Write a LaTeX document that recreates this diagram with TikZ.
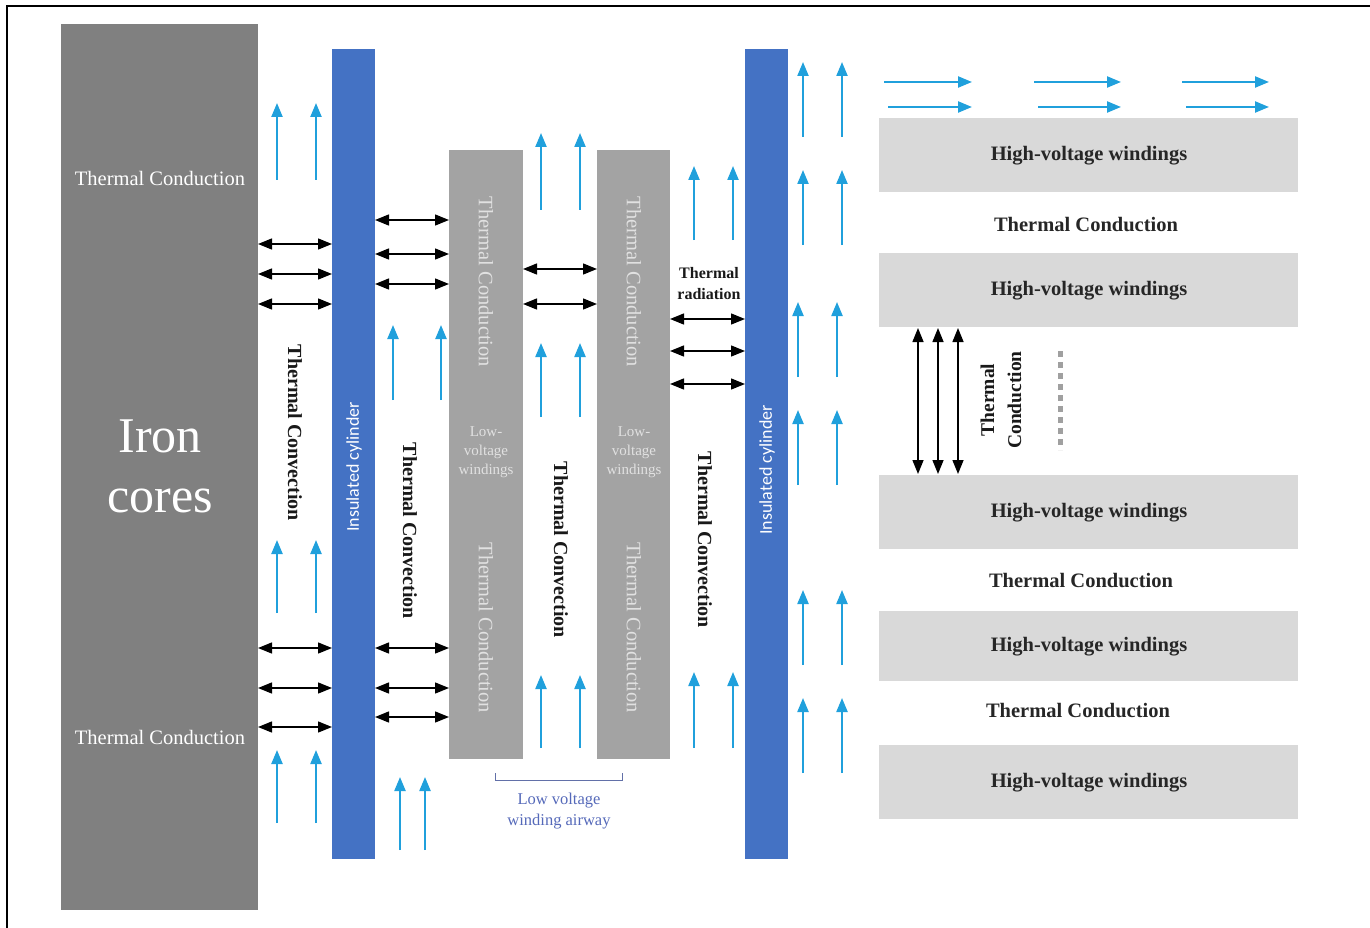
\documentclass[tikz,border=0pt]{standalone}
\usepackage{fontspec}
\setmainfont{Liberation Serif}
\newfontfamily\calibfont{Carlito}
\usetikzlibrary{arrows.meta}
\definecolor{coregray}{RGB}{128,128,128}
\definecolor{lvgray}{RGB}{163,163,163}
\definecolor{hvgray}{RGB}{217,217,217}
\definecolor{cylblue}{RGB}{68,114,196}
\definecolor{flowblue}{RGB}{32,160,220}
\definecolor{lvtext}{RGB}{225,225,225}
\definecolor{airblue}{RGB}{85,105,185}
\definecolor{dotgray}{RGB}{160,160,160}
\tikzset{
  core/.style={fill=coregray, draw=none},
  lvbox/.style={fill=lvgray, draw=none},
  hvbox/.style={fill=hvgray, draw=none},
  cyl/.style={fill=cylblue, draw=none},
  dbl/.style={black, line width=1.4pt, {Triangle[length=14pt,width=11pt]}-{Triangle[length=14pt,width=11pt]}},
  flow/.style={flowblue, line width=2.2pt, -{Triangle[length=14pt,width=11pt]}},
  whitelbl/.style={text=white, font=\fontsize{20.5}{23}\selectfont, inner sep=0pt},
  lvlbl/.style={text=lvtext, font=\fontsize{20.5}{23}\selectfont, inner sep=0pt},
  blacklbl/.style={text=black!90, font=\fontsize{20}{22}\selectfont\bfseries, inner sep=0pt},
  hvlbl/.style={text=black!85, font=\fontsize{20.5}{22}\selectfont\bfseries, inner sep=0pt},
}
\begin{document}
\begin{tikzpicture}[x=1pt,y=-1pt]
\useasboundingbox (0,0) rectangle (1370,928);
% frame
\draw[black, line width=1.5pt] (7,928) -- (7,6) -- (1370,6);

% iron core
\path[core] (61,24) rectangle (258,910);
\node[whitelbl] (ctc1) at (160,178) {Thermal Conduction};
\node[whitelbl] (ctc2) at (160,737) {Thermal Conduction};
\node[text=white, font=\fontsize{50}{60}\selectfont, align=center, inner sep=0pt] (iron) at (160,466) {Iron\\cores};

% insulated cylinders
\path[cyl] (332,49) rectangle (375,859);
\path[cyl] (745,49) rectangle (788,859);
\node[text=white, font=\calibfont\fontsize{18}{20}\selectfont, rotate=90, inner sep=0pt] (cyl1t) at (354,467) {Insulated cylinder};
\node[text=white, font=\calibfont\fontsize{18}{20}\selectfont, rotate=90, inner sep=0pt] (cyl2t) at (767,470) {Insulated cylinder};

% low-voltage windings
\path[lvbox] (449,150) rectangle (523,759);
\path[lvbox] (597,150) rectangle (670,759);
\foreach \xx/\nm in {486/a,634/b}{
  \node[lvlbl, rotate=-90] (lvtop\nm) at (\xx,282) {Thermal Conduction};
  \node[lvlbl, rotate=-90] (lvbot\nm) at (\xx,628) {Thermal Conduction};
  \node[text=lvtext, font=\fontsize{15}{19}\selectfont, align=center, inner sep=0pt] (lvw\nm) at (\xx,452) {Low-\\voltage\\windings};
}

% convection labels
\node[blacklbl, rotate=-90] (conv1) at (295,433) {Thermal Convection};
\node[blacklbl, rotate=-90] (conv2) at (410,531) {Thermal Convection};
\node[blacklbl, rotate=-90] (conv3) at (561,550) {Thermal Convection};
\node[blacklbl, rotate=-90] (conv4) at (705,540) {Thermal Convection};
\node[text=black!90, font=\fontsize{16}{21}\selectfont\bfseries, align=center, inner sep=0pt] (rad) at (709,284) {Thermal\\radiation};

% black double arrows
\foreach \yy in {244,274,304,648,688,727}{ \draw[dbl] (258,\yy) -- (332,\yy); }
\foreach \yy in {220,254,284,648,688,717}{ \draw[dbl] (375,\yy) -- (449,\yy); }
\foreach \yy in {269,304}{ \draw[dbl] (523,\yy) -- (597,\yy); }
\foreach \yy in {319,351,384}{ \draw[dbl] (670,\yy) -- (745,\yy); }

% blue upward flow arrows
\foreach \xa/\xb/\yb/\yt in {
  277/316/180/103, 277/316/613/540, 277/316/823/750,
  393/441/400/325, 400/425/850/777,
  541/580/210/133, 541/580/417/343, 541/580/748/675,
  694/733/240/166, 694/733/748/672,
  803/842/137/62, 803/842/245/170, 798/837/377/302, 798/837/485/410,
  803/842/665/590, 803/842/773/698}{
  \draw[flow] (\xa,\yb) -- (\xa,\yt);
  \draw[flow] (\xb,\yb) -- (\xb,\yt);
}
% horizontal flow arrows
\foreach \xs/\xe in {884/972, 1034/1121, 1182/1269}{
  \draw[flow] (\xs,82) -- (\xe,82);
  \draw[flow] (\xs+4,107) -- (\xe,107);
}

% high-voltage windings
\foreach \ya/\yb/\nm in {118/192/1, 253/327/2, 475/549/3, 611/681/4, 745/819/5}{
  \path[hvbox] (879,\ya) rectangle (1298,\yb);
  \node[hvlbl] (hv\nm) at (1089,{(\ya+\yb)/2+1}) {High-voltage windings};
}
\node[hvlbl] (hc1) at (1086,225) {Thermal Conduction};
\node[hvlbl] (hc2) at (1081,581) {Thermal Conduction};
\node[hvlbl] (hc3) at (1078,711) {Thermal Conduction};

% vertical conduction arrows between HV windings
\foreach \xx in {918,938,958}{ \draw[dbl] (\xx,328) -- (\xx,474); }
\node[text=black!90, font=\fontsize{19.5}{27}\selectfont\bfseries, align=center, rotate=90, inner sep=0pt] (vcond) at (1001,400) {Thermal\\Conduction};
\draw[dotgray, line width=5pt, dash pattern=on 6pt off 5pt] (1060,351) -- (1060,450);

% low voltage winding airway bracket
\draw[airblue!70!gray, line width=1pt] (495,773) -- (495,780) -- (622,780) -- (622,773);
\node[text=airblue, font=\fontsize{16.5}{21}\selectfont, align=center, inner sep=0pt] (air) at (559,811) {Low voltage\\winding airway};
\end{tikzpicture}
\end{document}
